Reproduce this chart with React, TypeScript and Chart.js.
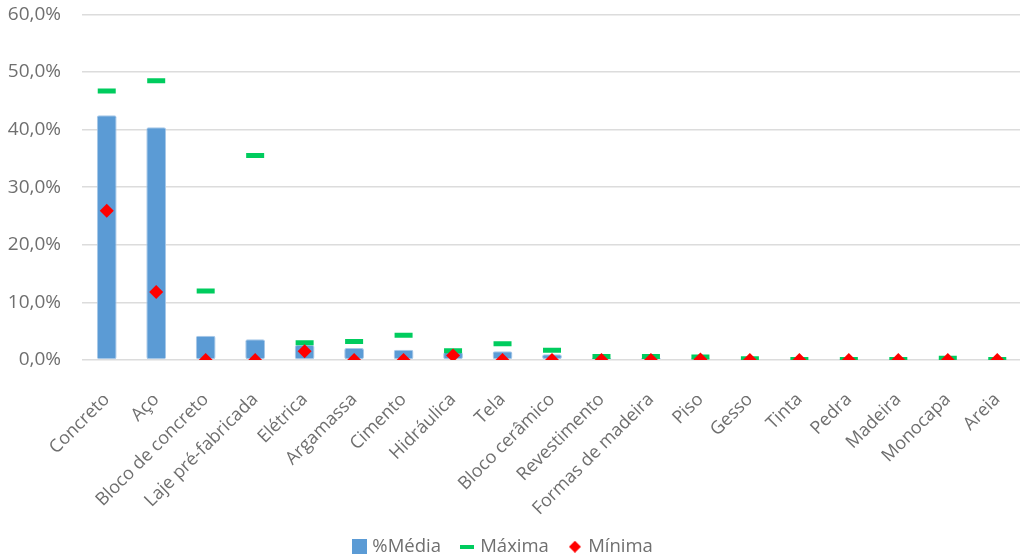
import React, { useEffect, useRef } from "react";
import { Chart, registerables } from "chart.js";

Chart.register(...registerables);

const categories = [
  "Concreto", "Aço", "Bloco de concreto", "Laje pré-fabricada", "Elétrica",
  "Argamassa", "Cimento", "Hidráulica", "Tela", "Bloco cerâmico",
  "Revestimento", "Formas de madeira", "Piso", "Gesso", "Tinta",
  "Pedra", "Madeira", "Monocapa", "Areia",
];

// shares as fractions (0.425 = 42,5%)
const mediaValues = [
  0.425, 0.404, 0.042, 0.036, 0.026, 0.021, 0.018, 0.014, 0.015, 0.010,
  0.004, 0.004, 0.003, 0.002, 0.0005, 0.0005, 0.0005, 0.002, 0.0005,
];
const maximaValues = [
  0.467, 0.485, 0.120, 0.355, 0.030, 0.032, 0.043, 0.016, 0.028, 0.017,
  0.006, 0.006, 0.005, 0.002, 0.001, 0.001, 0.001, 0.003, 0.001,
];
const minimaValues = [
  0.259, 0.118, 0.0, 0.0, 0.015, 0.0, 0.0, 0.008, 0.0, 0.0,
  0.0, 0.0, 0.001, 0.0, 0.0, 0.0, 0.0, 0.0, 0.0,
];

const yTicks = [0, 0.1, 0.2, 0.3, 0.4, 0.5, 0.6];

const BLUE = "#5b9bd5";
const GREEN = "#00cc5e";
const RED = "#ff0000";
const TEXT = "#6f6f6f";
const FONT = "'Open Sans', sans-serif";

const fmtPct = (v: number) => (v * 100).toFixed(1).replace(".", ",") + "%";

function makeIcon(w: number, h: number, draw: (c: CanvasRenderingContext2D) => void) {
  const cv = document.createElement("canvas");
  cv.width = w;
  cv.height = h;
  const c = cv.getContext("2d")!;
  draw(c);
  return cv;
}

export default function App() {
  const ref = useRef<HTMLCanvasElement | null>(null);

  useEffect(() => {
    if (!ref.current) return;

    const icons = [
      makeIcon(15, 15, (c) => {
        c.fillStyle = BLUE;
        c.fillRect(0, 0, 15, 15);
      }),
      makeIcon(14, 4, (c) => {
        c.fillStyle = GREEN;
        c.fillRect(0, 0, 14, 4);
      }),
      makeIcon(12, 12, (c) => {
        c.fillStyle = RED;
        c.beginPath();
        c.moveTo(6, 0);
        c.lineTo(12, 6);
        c.lineTo(6, 12);
        c.lineTo(0, 6);
        c.closePath();
        c.fill();
      }),
    ];

    // nudges the legend row into place and lets the slanted category
    // labels run down to the legend without being clipped
    const layoutTweak = {
      id: "layoutTweak",
      afterLayout(chart: any) {
        const l = chart.legend;
        if (l) {
          l.left -= 14;
          l.right -= 14;
          l.top += 7;
          l.bottom += 7;
        }
        const x = chart.scales.x;
        if (x) x.bottom = chart.height;
      },
    };

    const chart = new Chart(ref.current, {
      type: "bar",
      data: {
        labels: categories,
        datasets: [
          {
            type: "bar",
            label: "%Média",
            data: mediaValues,
            backgroundColor: BLUE,
            borderColor: "#a8c8e8",
            borderWidth: 1,
            borderRadius: 2,
            borderSkipped: false,
            categoryPercentage: 1,
            barPercentage: 0.4,
            order: 3,
          },
          {
            type: "line",
            label: "Máxima",
            data: maximaValues,
            showLine: false,
            pointStyle: "line",
            pointRadius: 9,
            pointHoverRadius: 9,
            pointBorderWidth: 5,
            pointBorderColor: GREEN,
            pointBackgroundColor: GREEN,
            borderColor: GREEN,
            backgroundColor: GREEN,
            order: 2,
          },
          {
            type: "line",
            label: "Mínima",
            data: minimaValues,
            showLine: false,
            pointStyle: "rectRot",
            pointRadius: 7,
            pointHoverRadius: 7,
            pointBorderWidth: 0,
            pointBackgroundColor: RED,
            pointBorderColor: RED,
            borderColor: RED,
            backgroundColor: RED,
            order: 1,
          },
        ] as any,
      },
      options: {
        responsive: false,
        animation: false,
        devicePixelRatio: 1,
        layout: { padding: { top: 14, left: 0, right: 0, bottom: 0 } },
        scales: {
          x: {
            offset: true,
            grid: { display: false },
            border: { display: false },
            ticks: {
              autoSkip: false,
              maxRotation: 45,
              minRotation: 45,
              padding: 21,
              color: TEXT,
              font: { family: FONT, size: 18 },
            },
            afterFit: (s: any) => {
              s.height = 148.5;
            },
          },
          y: {
            min: 0,
            max: 0.6,
            afterBuildTicks: (s: any) => {
              s.ticks = yTicks.map((v) => ({ value: v }));
            },
            grid: {
              color: "#dcdcdc",
              lineWidth: 1.5,
              drawTicks: true,
              tickLength: 18,
              tickColor: "rgba(0,0,0,0)",
            },
            border: { display: false },
            ticks: {
              padding: 3,
              color: TEXT,
              font: { family: FONT, size: 19 },
              callback: (v: any) => fmtPct(Number(v)),
            },
            afterFit: (s: any) => {
              s.width = 82;
            },
          },
        },
        plugins: {
          tooltip: { enabled: false },
          legend: {
            position: "bottom",
            labels: {
              usePointStyle: true,
              boxWidth: 8,
              padding: 22,
              color: TEXT,
              font: { family: FONT, size: 18.5 },
              sort: (a: any, b: any) => a.datasetIndex - b.datasetIndex,
              generateLabels: (ch: any) => {
                const items = (Chart.defaults.plugins.legend.labels as any).generateLabels(ch);
                items.forEach((it: any) => {
                  it.pointStyle = icons[it.datasetIndex];
                });
                return items;
              },
            },
          },
        },
      },
      plugins: [layoutTweak],
    });

    return () => chart.destroy();
  }, []);

  return (
    <div
      style={{
        position: "absolute",
        left: 0,
        top: 0,
        width: 1020,
        height: 559,
        overflow: "hidden",
        background: "#ffffff",
      }}
    >
      <canvas ref={ref} width={1036} height={559} style={{ display: "block", width: 1036, height: 559 }} />
    </div>
  );
}
